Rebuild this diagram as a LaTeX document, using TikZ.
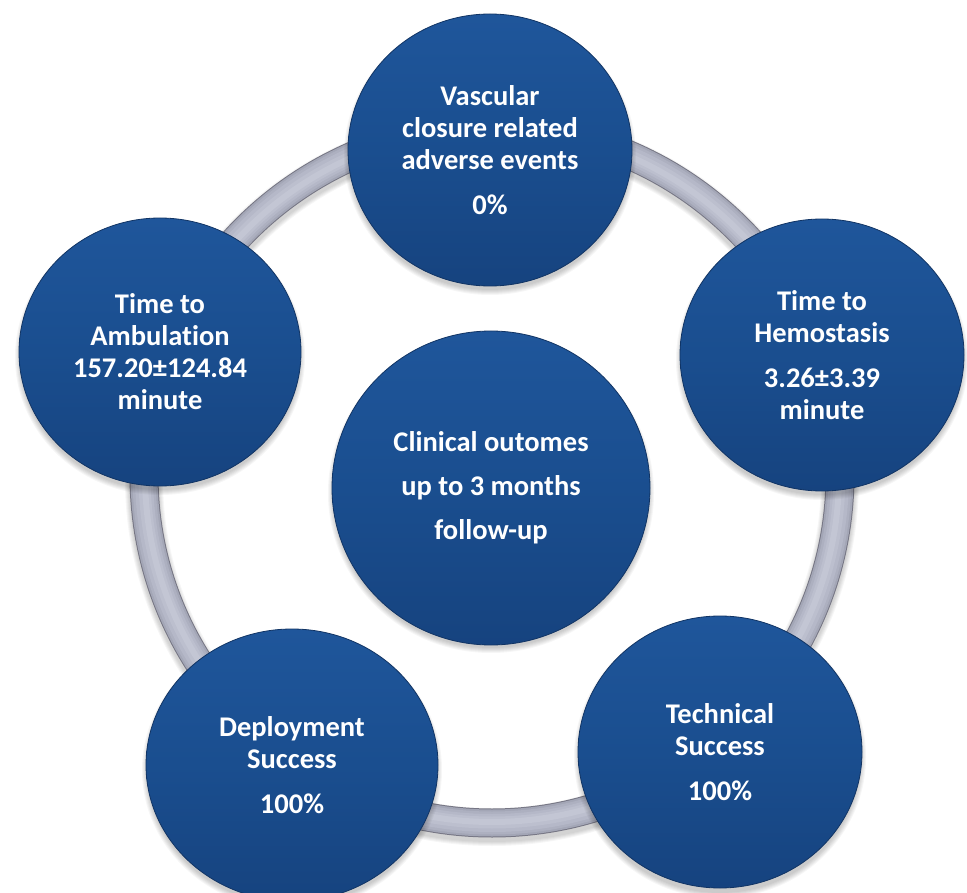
\documentclass[tikz,border=0pt]{standalone}
\usepackage{fontspec}
\setmainfont{Carlito}[Ligatures=NoCommon]
\usetikzlibrary{shapes.geometric}
\definecolor{bluetop}{RGB}{31,86,155}
\definecolor{bluemid}{RGB}{26,78,143}
\definecolor{bluebot}{RGB}{22,67,127}
\definecolor{blueedge}{RGB}{17,52,100}
\definecolor{ringdark}{RGB}{118,118,132}
\definecolor{ringa}{RGB}{163,166,182}
\definecolor{ringb}{RGB}{173,176,192}
\definecolor{ringc}{RGB}{181,184,200}
\definecolor{ringd}{RGB}{188,191,206}
\definecolor{ringe}{RGB}{195,198,212}
\begin{document}
\begin{tikzpicture}[x=1pt,y=-1pt,
  bubble/.style={ellipse, minimum width=284pt, minimum height=272pt, inner sep=0pt,
    top color=bluetop, bottom color=bluebot, middle color=bluemid,
    draw=blueedge, line width=0.8pt, text=white, align=center,
    font=\bfseries\fontsize{28.5}{32}\selectfont},
  bigbubble/.style={bubble, minimum width=318pt, minimum height=314pt,
    font=\bfseries\fontsize{28.5}{44}\selectfont},
  shade/.style={black, opacity=0.035}
]
\useasboundingbox (0,0) rectangle (967,893);
\fill[white] (0,0) rectangle (967,893);

% ring
\coordinate (rc) at (492,475);
\foreach \k in {0,...,4}
  \draw[shade, line width=30pt+2*\k pt] (492,479) circle[radius=348];
\draw[ringdark, line width=29pt] (rc) circle[radius=348];
\draw[ringa, line width=27pt] (rc) circle[radius=348];
\draw[ringb, line width=23pt] (rc) circle[radius=348];
\draw[ringc, line width=18pt] (rc) circle[radius=348];
\draw[ringd, line width=12pt] (rc) circle[radius=347.5];
\draw[ringe, line width=6pt] (rc) circle[radius=347];

% shadows of the bubbles
\foreach \cx/\cy/\rx/\ry in {490/150/142/136, 822/355/142/136, 720/752/142/137,
    292/765/146/136, 160/352/141/134, 491/488/159/156}{
  \foreach \k in {0,...,5}
    \fill[shade] (\cx,\cy+5) ellipse[x radius=\rx+\k-1, y radius=\ry+\k-1];
}

\node[bubble] (vasc) at (490,150) {Vascular\\closure related\\adverse events\\[13pt]0\%};
\node[bubble] (hemo) at (822,355) {Time to\\Hemostasis\\[13pt]3.26±3.39\\minute};
\node[bubble] (tech) at (720,752) {Technical\\Success\\[13pt]100\%};
\node[bubble, minimum width=292pt] (depl) at (292,765) {Deployment\\Success\\[13pt]100\%};
\node[bubble, minimum width=282pt, minimum height=268pt] (ambu) at (160,352) {Time to\\Ambulation\\157.20±124.84\\minute};
\node[bigbubble] (clin) at (491,488) {Clinical outomes\\up to 3 months\\follow-up};
\end{tikzpicture}
\end{document}
